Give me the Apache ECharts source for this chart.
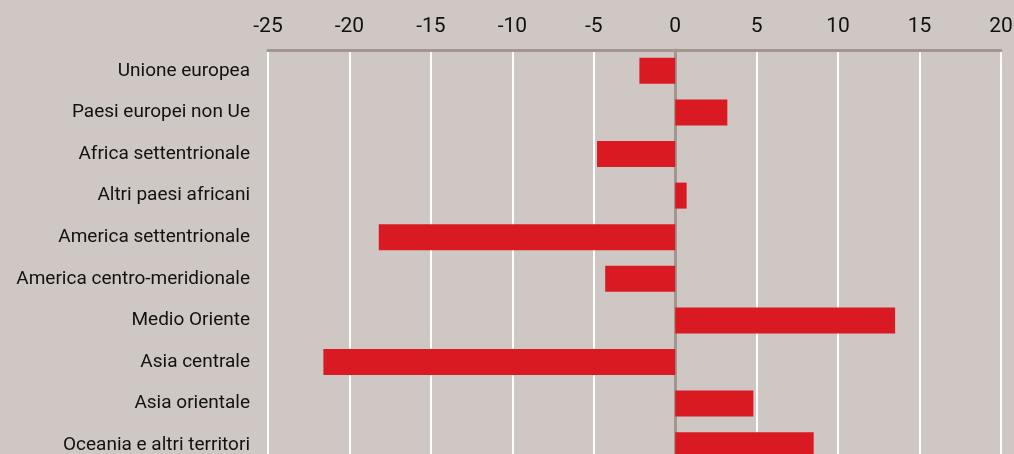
<!DOCTYPE html>
<html>
<head>
<meta charset="utf-8">
<script src="https://cdn.jsdelivr.net/npm/echarts@6/dist/echarts.min.js"></script>
<style>
html,body{margin:0;padding:0;background:#cfc7c4;}
#c{width:1014px;height:454px;}
</style>
</head>
<body>
<div id="c"></div>
<script>
const categories = [
  "Unione europea",
  "Paesi europei non Ue",
  "Africa settentrionale",
  "Altri paesi africani",
  "America settentrionale",
  "America centro-meridionale",
  "Medio Oriente",
  "Asia centrale",
  "Asia orientale",
  "Oceania e altri territori"
];
const values = [-2.2, 3.2, -4.8, 0.7, -18.2, -4.3, 13.5, -21.6, 4.8, 8.5];
const xTicks = [-25, -20, -15, -10, -5, 0, 5, 10, 15, 20];

const chart = echarts.init(document.getElementById('c'), null, {renderer: 'canvas'});
const font = 'Roboto, "Noto Sans", sans-serif';
chart.setOption({
  backgroundColor: '#cfc7c4',
  animation: false,
  grid: {left: 268, top: 50, right: 13, bottom: -12, containLabel: false, outerBoundsMode: 'none'},
  xAxis: {
    type: 'value',
    position: 'top',
    min: xTicks[0],
    max: xTicks[xTicks.length - 1],
    interval: 5,
    axisLine: {show: true, onZero: false, lineStyle: {color: '#a39590', width: 3}},
    axisTick: {show: false},
    splitLine: {show: true, lineStyle: {color: '#ffffff', width: 2}},
    axisLabel: {color: '#111', fontSize: 21, fontFamily: font, margin: 13}
  },
  yAxis: {
    type: 'category',
    inverse: true,
    data: categories,
    axisLine: {show: true, onZero: true, lineStyle: {color: '#a39590', width: 3}},
    axisTick: {show: false},
    splitLine: {show: false},
    axisLabel: {color: '#111', fontSize: 19, fontFamily: font, margin: 18}
  },
  series: [{
    type: 'bar',
    data: values,
    barWidth: 26,
    itemStyle: {color: '#d91a22'},
    z: 1
  }]
});
</script>
</body>
</html>
